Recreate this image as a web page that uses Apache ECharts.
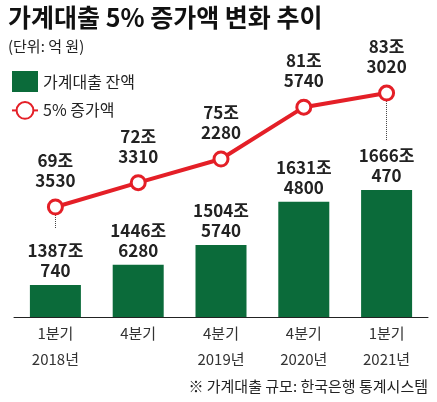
<!DOCTYPE html>
<html><head><meta charset="utf-8">
<script src="https://cdn.jsdelivr.net/npm/echarts@6/dist/echarts.min.js"></script>
<style>html,body{margin:0;padding:0;background:#fff}#c{width:437px;height:402px}</style>
</head><body><div id="c"></div>
<script>
const categories = ['1분기\n2018년', '4분기', '4분기\n2019년', '4분기\n2020년', '1분기\n2021년'];
const loanBalance = [1387.0740, 1446.6280, 1504.5740, 1631.4800, 1666.0470];
const increase5 = [69.3530, 72.3310, 75.2280, 81.5740, 83.3020];
const F = '"Noto Sans CJK KR", sans-serif';

function fmt(v) {
    let jo = Math.floor(v);
    let eok = Math.round((v - jo) * 10000);
    return jo + '조\n' + eok;
}

let chart = echarts.init(document.getElementById('c'));
chart.setOption({
    animation: false,
    textStyle: {fontFamily: F},
    title: [
        {text: '가계대출 5% 증가액 변화 추이', left: 3, top: 0,
         textStyle: {fontFamily: F, fontSize: 25, fontWeight: 'bold', color: '#111'}},
        {text: '(단위: 억 원)', left: 3, top: 34,
         textStyle: {fontFamily: F, fontSize: 15, fontWeight: 'normal', color: '#222'}},
        {text: '※ 가계대출 규모: 한국은행 통계시스템', right: 4, top: 374,
         textStyle: {fontFamily: F, fontSize: 15, fontWeight: 'normal', color: '#222'}}
    ],
    legend: {
        orient: 'vertical', left: 6, top: 66, itemGap: 9,
        itemWidth: 26, itemHeight: 21,
        textStyle: {fontFamily: F, fontSize: 16, color: '#222'},
        data: [
            {name: '가계대출 잔액', icon: 'rect', itemStyle: {color: '#0b6b3a'}},
            {name: '5% 증가액'}
        ]
    },
    grid: {left: 14, right: 9, top: 50, bottom: 85},
    xAxis: {
        type: 'category', data: categories,
        axisTick: {show: false},
        axisLine: {lineStyle: {color: '#222', width: 1}},
        axisLabel: {fontFamily: F, fontSize: 15, color: '#333', lineHeight: 26, margin: 3}
    },
    yAxis: [
        {type: 'value', min: 1293, max: 2077, show: false, splitLine: {show: false}},
        {type: 'value', min: 55.89, max: 88.57, show: false, splitLine: {show: false}}
    ],
    series: [
        {
            name: '가계대출 잔액', type: 'bar', data: loanBalance, barWidth: 51,
            itemStyle: {color: '#0b6b3a'},
            label: {show: true, position: 'top', distance: 4, formatter: p => fmt(p.value),
                    fontFamily: F, fontSize: 17, fontWeight: 'bold', color: '#222', lineHeight: 20}
        },
        {
            name: '5% 증가액', type: 'line', yAxisIndex: 1, data: increase5,
            symbol: 'circle', symbolSize: 14,
            lineStyle: {color: '#e41f27', width: 4},
            itemStyle: {color: '#fff', borderColor: '#e41f27', borderWidth: 3},
            label: {show: true, position: 'top', distance: 8, formatter: p => fmt(p.value),
                    fontFamily: F, fontSize: 17, fontWeight: 'bold', color: '#222', lineHeight: 20},
            markLine: {
                silent: true, symbol: 'none', label: {show: false},
                lineStyle: {color: '#444', type: 'dotted', width: 1},
                data: [
                    [{coord: [0, increase5[0]]}, {coord: [0, 66.78]}],
                    [{coord: [4, increase5[4]]}, {coord: [4, 77.55]}]
                ]
            },
            z: 5
        }
    ]
});
</script></body></html>
